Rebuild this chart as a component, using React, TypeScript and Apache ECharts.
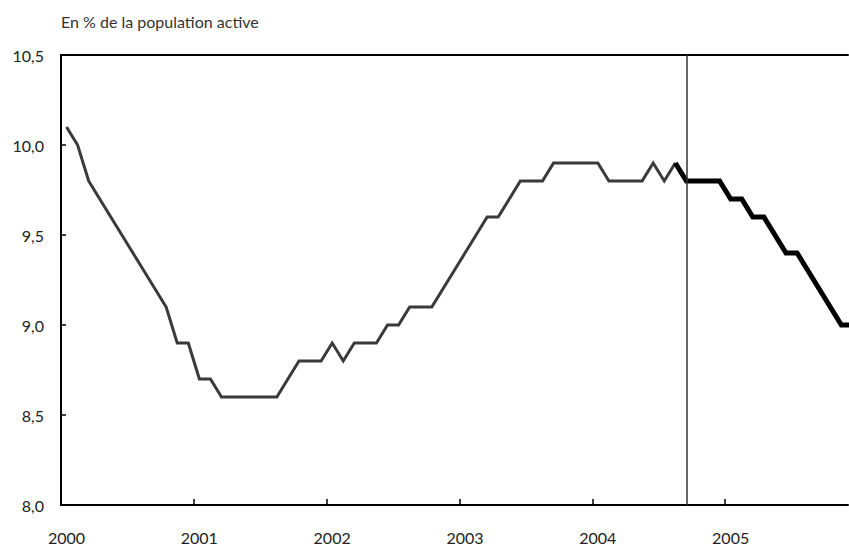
import React, { useEffect, useRef } from "react";
import * as echarts from "echarts";

// Monthly unemployment rate, Jan 2000 – Dec 2005 (% of labour force)
const startYear = 2000;
const unemployment: number[] = [
  10.1, 10.0, 9.8, 9.7, 9.6, 9.5, 9.4, 9.3, 9.2, 9.1, 8.9, 8.9, // 2000
  8.7, 8.7, 8.6, 8.6, 8.6, 8.6, 8.6, 8.6, 8.7, 8.8, 8.8, 8.8, // 2001
  8.9, 8.8, 8.9, 8.9, 8.9, 9.0, 9.0, 9.1, 9.1, 9.1, 9.2, 9.3, // 2002
  9.4, 9.5, 9.6, 9.6, 9.7, 9.8, 9.8, 9.8, 9.9, 9.9, 9.9, 9.9, // 2003
  9.9, 9.8, 9.8, 9.8, 9.8, 9.9, 9.8, 9.9, 9.8, 9.8, 9.8, 9.8, // 2004
  9.7, 9.7, 9.6, 9.6, 9.5, 9.4, 9.4, 9.3, 9.2, 9.1, 9.0, 9.0, // 2005
];
const forecastStart = 55; // index where the projection (thick line) begins
const breakIndex = 56; // vertical line position (month index)
const yearTicks = [0, 12, 24, 36, 48, 60];
const yTicks = [8.0, 8.5, 9.0, 9.5, 10.0, 10.5];
const titleText = "En % de la population active";

const FONT = "Lato, 'Open Sans', sans-serif";

export default function App() {
  const ref = useRef<HTMLDivElement>(null);

  useEffect(() => {
    if (!ref.current) return;
    const chart = echarts.init(ref.current, undefined, { renderer: "svg" });
    const pts = unemployment.map((v, i) => [i + 0.5, v]);
    const hist = pts.slice(0, forecastStart + 1);
    const proj = pts.slice(forecastStart);

    chart.setOption({
      animation: false,
      backgroundColor: "#ffffff",
      title: {
        text: titleText,
        left: 56,
        top: 8,
        textStyle: { fontFamily: FONT, fontSize: 16, fontWeight: "normal", color: "#333" },
      },
      grid: { left: 61, right: 1, top: 55, bottom: 39, containLabel: false },
      xAxis: [
        {
          type: "value",
          min: 0,
          max: 71.1,
          interval: 12,
          splitLine: { show: false },
          axisLine: { show: true, onZero: false, lineStyle: { color: "#000", width: 2 } },
          axisTick: {
            show: true,
            inside: true,
            length: 6,
            customValues: yearTicks,
            lineStyle: { color: "#000", width: 1.5 },
          },
          axisLabel: {
            show: true,
            customValues: yearTicks,
            formatter: (v: number) => String(startYear + Math.round(v / 12)),
            fontFamily: FONT,
            fontSize: 16,
            color: "#222",
            margin: 24,
            padding: [0, 0, 0, 11],
          },
        },
        {
          type: "value",
          position: "top",
          min: 0,
          max: 71.1,
          splitLine: { show: false },
          axisLine: { show: true, onZero: false, lineStyle: { color: "#000", width: 2 } },
          axisTick: { show: false },
          axisLabel: { show: false },
        },
      ],
      yAxis: {
        type: "value",
        min: 8,
        max: 10.5,
        interval: 0.5,
        splitLine: { show: false },
        axisLine: { show: true, onZero: false, lineStyle: { color: "#000", width: 2 } },
        axisTick: { show: true, inside: true, length: 5, customValues: yTicks, lineStyle: { color: "#000", width: 1.5 } },
        axisLabel: {
          formatter: (v: number) => v.toFixed(1).replace(".", ","),
          fontFamily: FONT,
          fontSize: 16,
          color: "#222",
          margin: 17,
        },
      },
      series: [
        {
          type: "line",
          data: hist,
          showSymbol: false,
          symbol: "none",
          lineStyle: { color: "#3a3a3a", width: 3, join: "miter" },
          z: 2,
        },
        {
          type: "line",
          data: proj,
          showSymbol: false,
          symbol: "none",
          lineStyle: { color: "#000", width: 5, join: "miter" },
          z: 3,
          markLine: {
            silent: true,
            symbol: "none",
            label: { show: false },
            lineStyle: { color: "#333", width: 1.5, type: "solid" },
            data: [{ xAxis: breakIndex + 0.5 }],
          },
        },
      ],
    });
    return () => chart.dispose();
  }, []);

  return (
    <div
      ref={ref}
      style={{ position: "absolute", left: 0, top: 0, width: 849, height: 545, background: "#fff" }}
    />
  );
}
